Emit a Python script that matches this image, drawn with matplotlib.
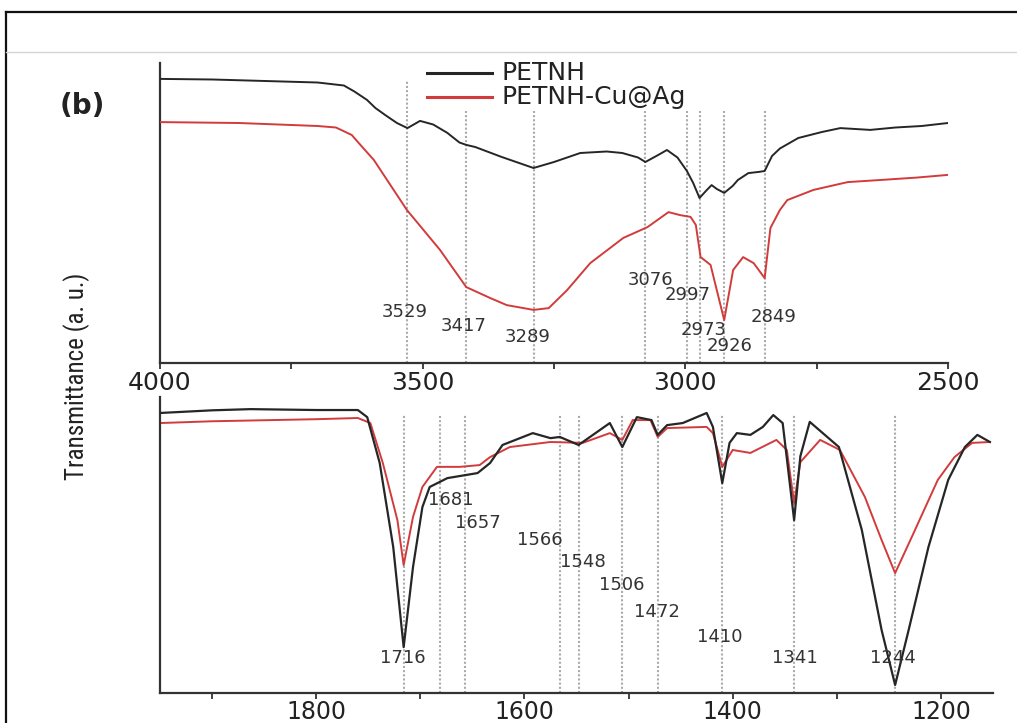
import matplotlib
matplotlib.use("Agg")
import matplotlib.pyplot as plt
from matplotlib import font_manager
from matplotlib.lines import Line2D
from matplotlib.ticker import MultipleLocator

# ---- high wavenumber region (4000-2500 cm-1) ----
top_wn_petnh = [4000, 3900, 3800, 3700, 3650, 3630, 3606, 3590, 3570, 3549, 3529,
                3505, 3480, 3453, 3430, 3417, 3400, 3350, 3289, 3250, 3200, 3150,
                3120, 3090, 3076, 3050, 3035, 3015, 2997, 2985, 2973, 2960, 2950,
                2940, 2926, 2910, 2900, 2880, 2860, 2849, 2835, 2820, 2785, 2740,
                2705, 2648, 2600, 2550, 2500]
top_t_petnh = [94.7, 94.5, 94.0, 93.5, 92.5, 90.5, 87.7, 85.0, 82.5, 80.0, 78.3,
               80.7, 79.5, 76.7, 73.5, 72.7, 72.0, 68.7, 65.0, 67.0, 70.0, 70.5,
               70.0, 68.5, 67.0, 69.5, 71.0, 68.5, 64.0, 60.0, 55.0, 57.5, 59.3,
               58.0, 56.7, 59.0, 61.0, 63.3, 63.7, 64.0, 69.0, 71.5, 75.0, 77.0,
               78.3, 77.7, 78.5, 79.0, 80.0]

top_wn_cuag = [4000, 3850, 3700, 3665, 3635, 3615, 3593, 3530, 3467, 3417, 3372,
               3340, 3289, 3260, 3225, 3181, 3118, 3072, 3032, 3010, 2990, 2980,
               2971, 2952, 2926, 2909, 2890, 2870, 2849, 2838, 2820, 2806, 2756,
               2691, 2629, 2560, 2500]
top_t_cuag = [80.3, 80.0, 79.0, 78.5, 76.0, 72.0, 67.7, 51.0, 37.7, 25.3, 21.7,
              19.3, 17.7, 18.3, 24.3, 33.3, 41.7, 45.3, 50.3, 49.3, 48.7, 46.0,
              35.3, 32.7, 14.3, 31.0, 35.3, 33.3, 28.3, 45.0, 51.0, 54.3, 57.7,
              60.3, 61.0, 61.8, 62.7]

top_peaks = [3529, 3417, 3289, 3076, 2997, 2973, 2926, 2849]
top_peak_tops = [94, 84, 84, 84, 84, 84, 84, 84]
top_label_pos = [(3535, 17.0), (3422, 12.3), (3300, 8.7), (3066, 27.7),
                 (2995, 22.7), (2965, 11.0), (2916, 5.7), (2832, 15.3)]

# ---- fingerprint region (1950-1150 cm-1) ----
bot_wn_petnh = [1950, 1900, 1863, 1800, 1760, 1751, 1739, 1726, 1716, 1707, 1698,
                1691, 1674, 1645, 1633, 1621, 1592, 1575, 1566, 1548, 1518, 1506,
                1492, 1478, 1472, 1463, 1448, 1425, 1419, 1410, 1403, 1396, 1383,
                1371, 1361, 1352, 1341, 1335, 1326, 1298, 1276, 1257, 1244, 1231,
                1212, 1193, 1177, 1165, 1153]
bot_t_petnh = [94.6, 95.5, 95.9, 95.6, 95.6, 93.2, 77.7, 49.3, 15.5, 42.6, 62.8,
               69.6, 72.6, 74.3, 77.7, 83.8, 87.8, 86.1, 86.5, 83.8, 91.2, 83.1,
               93.2, 92.2, 87.2, 90.5, 91.2, 94.6, 89.9, 70.9, 84.5, 87.8, 87.2,
               89.9, 93.9, 91.2, 58.4, 80.0, 91.6, 83.1, 55.1, 21.3, 2.7, 21.3,
               49.3, 72.0, 83.1, 87.2, 84.8]

bot_wn_cuag = [1950, 1900, 1800, 1760, 1748, 1736, 1722, 1716, 1707, 1698, 1684,
               1662, 1643, 1633, 1614, 1575, 1544, 1518, 1506, 1496, 1479, 1472,
               1463, 1425, 1419, 1410, 1400, 1383, 1358, 1348, 1341, 1335, 1316,
               1297, 1273, 1257, 1244, 1228, 1203, 1187, 1170, 1153]
bot_t_cuag = [91.2, 91.8, 92.5, 92.9, 91.2, 77.7, 58.4, 43.2, 59.5, 69.6, 76.4,
              76.4, 77.0, 79.7, 83.1, 84.8, 84.5, 87.8, 85.5, 92.2, 92.2, 86.5,
              89.5, 89.9, 87.8, 76.4, 82.1, 81.1, 85.5, 82.1, 64.2, 78.0, 85.5,
              82.1, 66.2, 51.7, 40.5, 52.7, 72.0, 79.7, 84.5, 84.8]

bot_peaks = [1716, 1681, 1657, 1566, 1548, 1506, 1472, 1410, 1341, 1244]
bot_label_pos = [(1717, 11.8), (1671, 65.2), (1645, 57.4), (1585, 51.7),
                 (1544, 44.3), (1507, 36.5), (1473, 27.4), (1412, 18.9),
                 (1340, 11.8), (1246, 11.8)]

labels = ["PETNH", "PETNH-Cu@Ag"]
c_black = "#262626"
c_red = "#d23b3b"
c_dots = "#ababab"

installed = {f.name for f in font_manager.fontManager.ttflist}
narrow, ylab_size = "DejaVu Sans", 15
for cand in ["Liberation Sans Narrow", "DejaVu Sans Condensed", "Roboto Condensed"]:
    if cand in installed:
        narrow, ylab_size = cand, 18
        break

W, H = 1017, 723
fig = plt.figure(figsize=(W / 100, H / 100), dpi=100)
fig.patch.set_facecolor("white")

ax_top = fig.add_axes([160 / W, 1 - 363 / H, 788 / W, 300 / H])
ax_bot = fig.add_axes([160 / W, 1 - 693 / H, 833 / W, 296 / H])


def style_axis(ax, xlim, major, minor, pad, size):
    ax.set_xlim(*xlim)
    ax.set_ylim(0, 100)
    ax.set_yticks([])
    for s in ("top", "right"):
        ax.spines[s].set_visible(False)
    for s in ("left", "bottom"):
        ax.spines[s].set_linewidth(1.6)
        ax.spines[s].set_color("#333333")
    ax.xaxis.set_major_locator(MultipleLocator(major))
    ax.xaxis.set_minor_locator(MultipleLocator(minor))
    ax.tick_params(axis="x", which="both", direction="out", length=4, width=1.3,
                   colors="#333333", labelsize=size, pad=pad)
    ax.tick_params(axis="x", which="major", labelcolor="#222222")


style_axis(ax_top, (4000, 2500), 500, 250, 2, 18)
style_axis(ax_bot, (1950, 1150), 200, 100, 1, 17)

ax_top.vlines(top_peaks, 0, top_peak_tops, colors=c_dots, linestyles=(0, (1, 1)),
              lw=1.5, zorder=1)
ax_bot.vlines(bot_peaks, 0, 94, colors=c_dots, linestyles=(0, (1, 1)), lw=1.5, zorder=1)

ax_top.plot(top_wn_petnh, top_t_petnh, color=c_black, lw=1.4, zorder=3)
ax_top.plot(top_wn_cuag, top_t_cuag, color=c_red, lw=1.4, zorder=3)
ax_bot.plot(bot_wn_petnh, bot_t_petnh, color=c_black, lw=1.6, zorder=3)
ax_bot.plot(bot_wn_cuag, bot_t_cuag, color=c_red, lw=1.4, zorder=2)

for peak, (px, py) in zip(top_peaks, top_label_pos):
    ax_top.text(px, py, str(peak), ha="center", va="center", fontsize=13,
                color="#333333", zorder=4)
for peak, (px, py) in zip(bot_peaks, bot_label_pos):
    ax_bot.text(px, py, str(peak), ha="center", va="center", fontsize=13,
                color="#333333", zorder=4)

# legend drawn in figure pixels
for i, (lab, col) in enumerate(zip(labels, [c_black, c_red])):
    yy = 1 - (73 + 24 * i) / H
    fig.add_artist(Line2D([427 / W, 492 / W], [yy, yy], color=col, lw=2.2))
    fig.text(502 / W, yy, lab, ha="left", va="center", fontsize=18, color="#222222")

fig.text(82 / W, 1 - 106 / H, "(b)", ha="center", va="center", fontsize=20,
         fontweight="bold", color="#222222")
fig.text(77 / W, 1 - 376 / H, "Transmittance (a. u.)", rotation=90, ha="center",
         va="center", fontsize=ylab_size, family=narrow, color="#222222")

# outer frame and header separator of the source figure
fig.add_artist(Line2D([6 / W, 6 / W], [0, 1 - 12 / H], color="#111111", lw=1.6))
fig.add_artist(Line2D([6 / W, 1], [1 - 12 / H, 1 - 12 / H], color="#111111", lw=1.6))
fig.add_artist(Line2D([6 / W, 1], [1 - 52 / H, 1 - 52 / H], color="#d4d4d4", lw=1.0))

fig.savefig("out.png", dpi=100)
